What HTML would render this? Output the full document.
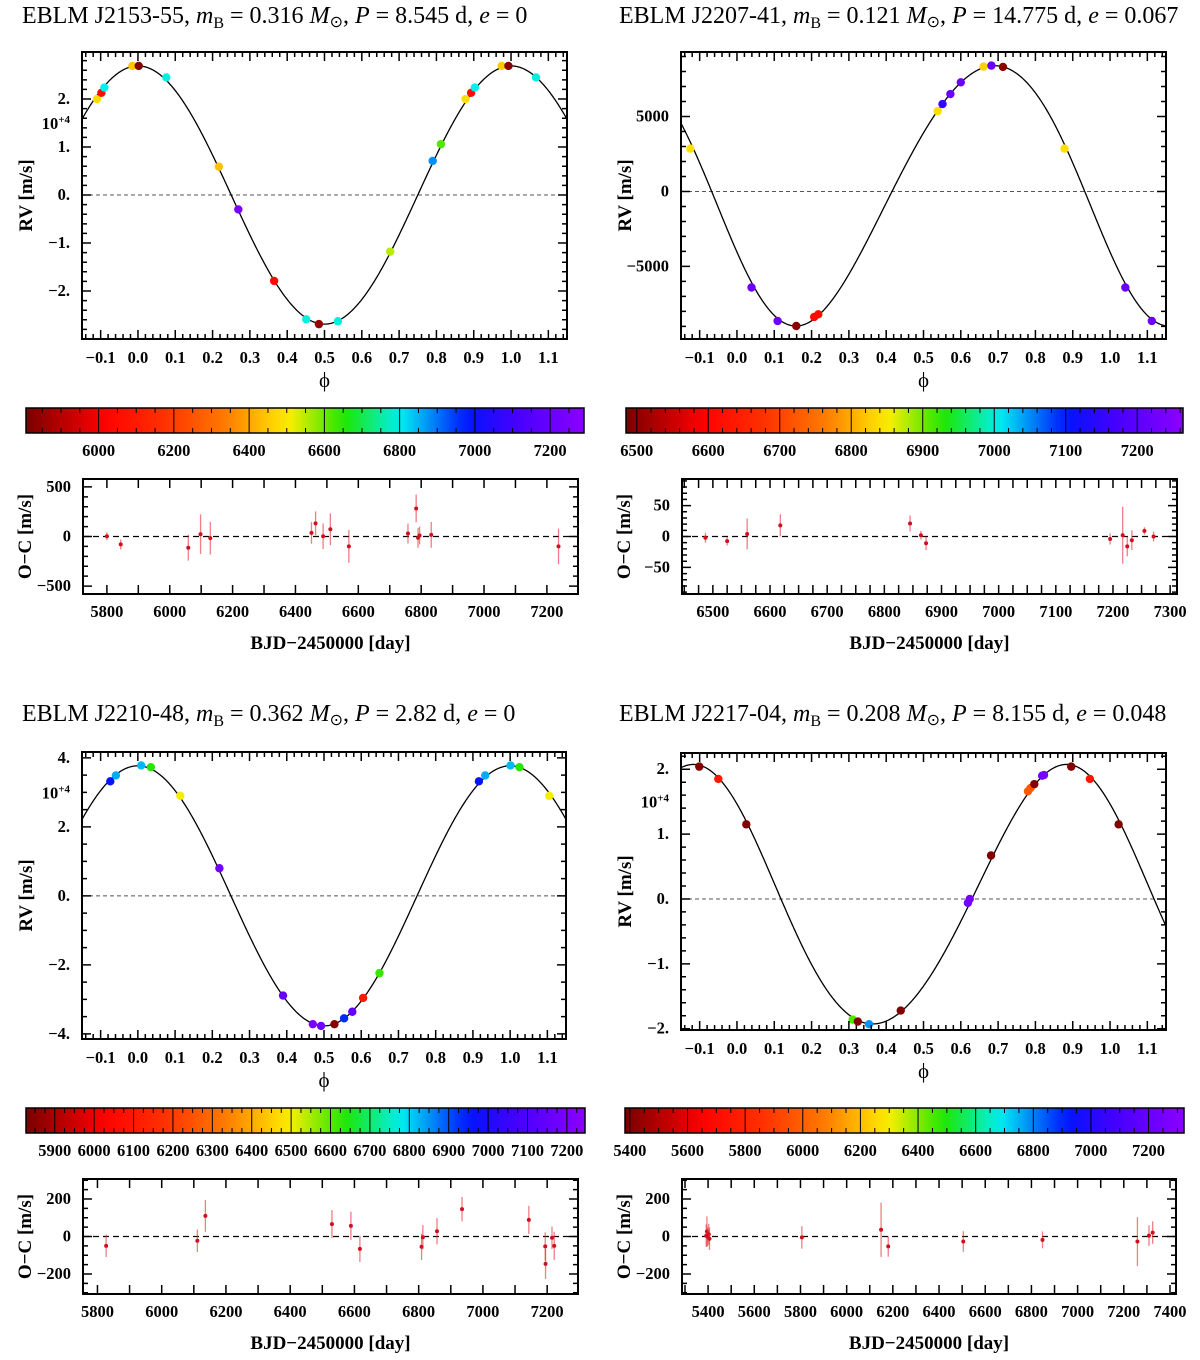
<!DOCTYPE html>
<html><head><meta charset="utf-8"><title>EBLM RV panels</title>
<style>
html,body{margin:0;padding:0;background:#fff;}
svg{display:block;}
text{font-family:"Liberation Serif",serif;}
.tk{font-weight:bold;font-size:16.5px;}
.ttl{font-size:24px;}
.ax{font-weight:bold;font-size:19px;}
</style></head>
<body>
<svg id="fig" width="1200" height="1360" viewBox="0 0 1200 1360" xmlns="http://www.w3.org/2000/svg"></svg>
<script>
// ===== DATA: top-left J2153-55 =====
const tl_phase=[-0.110,-0.098,-0.090,-0.015,0.002,0.076,0.217,0.269,0.365,0.451,0.485,0.536,0.676,0.790,0.812,0.878,0.893,0.903,0.975,0.993,1.067];
const tl_rv=[2.0e4,2.13e4,2.24e4,2.69e4,2.69e4,2.45e4,0.59e4,-0.30e4,-1.79e4,-2.59e4,-2.69e4,-2.63e4,-1.18e4,0.71e4,1.06e4,2.0e4,2.13e4,2.24e4,2.69e4,2.69e4,2.45e4];
const tl_date=[6480,6050,6800,6450,5830,6790,6440,7250,6040,6790,5850,6790,6550,6880,6620,6480,6050,6800,6450,5830,6790];
const tl_model=[2.69e4,0,0,0,0]; // K, e, omega(deg), tperi, gamma
const tl_oc_day=[5800,5844,6059,6098,6129,6451,6464,6488,6511,6570,6758,6784,6790,6795,6832,7237];
const tl_oc_res=[3,-80,-113,23,-17,37,133,3,73,-100,30,283,-13,10,17,-100];
const tl_oc_err=[40,50,130,200,165,110,120,130,160,165,100,140,100,90,130,180];
// ===== DATA: top-right J2207-41 =====
const tr_phase=[-0.125,0.039,0.109,0.159,0.207,0.218,0.538,0.551,0.572,0.600,0.661,0.682,0.713,0.878,1.041,1.112];
const tr_rv=[2857,-6406,-8638,-8973,-8371,-8192,5357,5826,6496,7277,8326,8393,8304,2857,-6406,-8638];
const tr_date=[6840,7220,7220,6500,6610,6610,6840,7150,7220,7220,6830,7220,6500,6840,7220,7220];
const tr_model=[8680,0.067,130,0.035,80];
const tr_oc_day=[6487,6525,6560,6618,6845,6864,6873,7195,7217,7225,7233,7255,7271];
const tr_oc_res=[-2,-7.5,4,18,21,2,-11,-4,2,-16,-6,9,0];
const tr_oc_err=[8,7,25,18,13,7,11,9,46,16,16,6,8];
// ===== DATA: bottom-left J2210-48 =====
const bl_phase=[-0.074,-0.059,0.009,0.035,0.114,0.219,0.390,0.470,0.492,0.528,0.554,0.576,0.605,0.649,0.916,0.933,1.001,1.025,1.105];
const bl_rv=[3.32e4,3.49e4,3.78e4,3.73e4,2.90e4,0.80e4,-2.89e4,-3.72e4,-3.77e4,-3.72e4,-3.55e4,-3.36e4,-2.96e4,-2.24e4,3.32e4,3.49e4,3.78e4,3.73e4,2.90e4];
const bl_date=[6950,6830,6820,6630,6500,7180,7150,7200,7180,5850,6930,7150,6100,6620,6950,6830,6820,6630,6500];
const bl_model=[3.77e4,0,0,0,0];
const bl_oc_day=[5827,6111,6136,6530,6589,6617,6809,6813,6857,6935,7143,7194,7195,7215,7222];
const bl_oc_res=[-50,-23,110,66,57,-66,-55,-4,28,146,89,-53,-146,-7,-50];
const bl_oc_err=[60,60,85,75,75,70,70,65,70,65,75,75,80,60,75];
// ===== DATA: bottom-right J2217-04 =====
const br_phase=[-0.101,-0.050,0.025,0.310,0.324,0.354,0.439,0.619,0.624,0.681,0.780,0.787,0.797,0.818,0.823,0.896,0.946,1.023];
const br_rv=[2.04e4,1.85e4,1.15e4,-1.86e4,-1.89e4,-1.93e4,-1.72e4,-0.06e4,0.0,0.67e4,1.66e4,1.71e4,1.77e4,1.90e4,1.91e4,2.04e4,1.85e4,1.15e4];
const br_date=[5400,5750,5400,6450,5400,6780,5400,7250,7250,5400,5980,5980,5400,7250,7250,5400,5750,5400];
const br_model=[20000,0.048,40,-0.015,0];
const br_oc_day=[5392,5395,5398,5403,5406,5806,6149,6180,6505,6848,7259,7309,7325];
const br_oc_res=[4,27,0,12,-12,-5,36,-53,-27,-18,-27,5,21];
const br_oc_err=[60,80,50,55,60,60,145,55,55,45,130,55,60];

// ===== tick label arrays =====
const phaseTicks=[-0.1,0,0.1,0.2,0.3,0.4,0.5,0.6,0.7,0.8,0.9,1.0,1.1];
const tl_yticks=[2e4,1e4,0,-1e4,-2e4]; const tl_ylabels=["2.","1.","0.","\u22121.","\u22122."];
const tr_yticks=[5000,0,-5000]; const tr_ylabels=["5000","0","\u22125000"];
const bl_yticks=[4e4,2e4,0,-2e4,-4e4]; const bl_ylabels=["4.","2.","0.","\u22122.","\u22124."];
const br_yticks=[2e4,1e4,0,-1e4,-2e4]; const br_ylabels=["2.","1.","0.","\u22121.","\u22122."];

// ===== layout (not data) =====
const panels=[
 {id:'j2153',title:['EBLM J2153-55, ','0.316','8.545','0'],tx:22,ty:23,
  phase:tl_phase,rv:tl_rv,date:tl_date,model:tl_model,yt:tl_yticks,yl:tl_ylabels,expo:true,
  rvb:{x0:82,x1:567,y0:52,y1:339,ymin:-3.0e4,ymax:2.98e4,minor:0.2e4,major:1e4},
  cb:{x0:26,x1:584,y0:408,y1:433,vmin:5807,vmax:7290,major:200,minor:50,first:6000},
  ocd:tl_oc_day,ocr:tl_oc_res,oce:tl_oc_err,
  oc:{x0:83,x1:578,y0:479,y1:594,xmin:5724,xmax:7299,ymin:-580,ymax:580,xlab:200,xt:100,ymaj:500,ymin2:100,first:5800}},
 {id:'j2207',title:['EBLM J2207-41, ','0.121','14.775','0.067'],tx:619,ty:23,
  phase:tr_phase,rv:tr_rv,date:tr_date,model:tr_model,yt:tr_yticks,yl:tr_ylabels,expo:false,
  rvb:{x0:681,x1:1166,y0:52,y1:339,ymin:-9840,ymax:9300,minor:1000,major:5000},
  cb:{x0:626,x1:1183,y0:408,y1:433,vmin:6485,vmax:7264,major:100,minor:20,first:6500},
  ocd:tr_oc_day,ocr:tr_oc_res,oce:tr_oc_err,
  oc:{x0:682,x1:1177,y0:479,y1:594,xmin:6446,xmax:7312,ymin:-93,ymax:93,xlab:100,xt:25,ymaj:50,ymin2:10,first:6500}},
 {id:'j2210',title:['EBLM J2210-48, ','0.362','2.82','0'],tx:22,ty:721,
  phase:bl_phase,rv:bl_rv,date:bl_date,model:bl_model,yt:bl_yticks,yl:bl_ylabels,expo:true,
  rvb:{x0:82,x1:566,y0:752,y1:1039,ymin:-4.15e4,ymax:4.17e4,minor:0.5e4,major:2e4},
  cb:{x0:26,x1:585,y0:1108,y1:1133,vmin:5827,vmax:7246,major:100,minor:25,first:5900},
  ocd:bl_oc_day,ocr:bl_oc_res,oce:bl_oc_err,
  oc:{x0:83,x1:578,y0:1179,y1:1294,xmin:5755,xmax:7296,ymin:-307,ymax:307,xlab:200,xt:100,ymaj:200,ymin2:50,first:5800}},
 {id:'j2217',title:['EBLM J2217-04, ','0.208','8.155','0.048'],tx:619,ty:721,
  phase:br_phase,rv:br_rv,date:br_date,model:br_model,yt:br_yticks,yl:br_ylabels,expo:true,
  rvb:{x0:681,x1:1166,y0:753,y1:1030,ymin:-2.02e4,ymax:2.25e4,minor:0.2e4,major:1e4},
  cb:{x0:625,x1:1184,y0:1108,y1:1133,vmin:5383,vmax:7323,major:200,minor:50,first:5400},
  ocd:br_oc_day,ocr:br_oc_res,oce:br_oc_err,
  oc:{x0:682,x1:1176,y0:1179,y1:1294,xmin:5287,xmax:7426,ymin:-307,ymax:307,xlab:200,xt:100,ymaj:200,ymin2:50,first:5400}}
];

const NS='http://www.w3.org/2000/svg';
const svg=document.getElementById('fig');
function mk(tag,attrs,parent){const e=document.createElementNS(NS,tag);for(const k in attrs)e.setAttribute(k,attrs[k]);(parent||svg).appendChild(e);return e;}
const CM=[[0,[122,0,0]],[0.14,[255,0,0]],[0.25,[255,50,0]],[0.36,[255,125,0]],[0.47,[255,238,0]],[0.57,[30,230,0]],[0.67,[0,240,240]],[0.79,[0,20,255]],[0.88,[70,0,255]],[1,[140,0,255]]];
function cmap(f){f=Math.max(0,Math.min(1,f));for(let i=1;i<CM.length;i++){if(f<=CM[i][0]){const a=CM[i-1],b=CM[i],t=(f-a[0])/(b[0]-a[0]);const c=a[1].map((v,j)=>Math.round(v+(b[1][j]-v)*t));return 'rgb('+c.join(',')+')';}}return 'rgb(140,0,255)';}
function rvModel(ph,p){const K=p[0],e=p[1],w=p[2]*Math.PI/180,tp=p[3],g=p[4];const M=2*Math.PI*(ph-tp);let E=M;for(let i=0;i<30;i++)E=E-(E-e*Math.sin(E)-M)/(1-e*Math.cos(E));const nu=2*Math.atan2(Math.sqrt(1+e)*Math.sin(E/2),Math.sqrt(1-e)*Math.cos(E/2));return g+K*(Math.cos(nu+w)+e*Math.cos(w));}
function fmtTxt(v){return v<0?'\u2212'+Math.abs(v).toFixed(1):v.toFixed(1);}

panels.forEach((P,pi)=>{
 const g=mk('g',{});
 
 
 const t=mk('text',{x:P.tx,y:P.ty,class:'ttl'},g);
 
 
 t.innerHTML=P.title[0]+'<tspan font-style="italic">m</tspan><tspan font-size="16" dy="5">B</tspan><tspan dy="-5"> = '+P.title[1]+' </tspan><tspan font-style="italic">M</tspan><tspan font-size="16" dy="4">\u2299</tspan><tspan dy="-4">, </tspan><tspan font-style="italic">P</tspan> = '+P.title[2]+' d, <tspan font-style="italic">e</tspan> = '+P.title[3];

 const R=P.rvb;
 const xs=ph=>R.x0+(ph+0.15)/1.3*(R.x1-R.x0);
 const ys=v=>R.y1-(v-R.ymin)/(R.ymax-R.ymin)*(R.y1-R.y0);
 const clipId='clip'+pi;
 const cp=mk('clipPath',{id:clipId},g);mk('rect',{x:R.x0,y:R.y0,width:R.x1-R.x0,height:R.y1-R.y0},cp);
 const zl=mk('line',{x1:R.x0,x2:R.x1,y1:ys(0),y2:ys(0),stroke:'#555','stroke-width':1,'stroke-dasharray':'4 3'},g);
 
 
 let d='';for(let i=0;i<=600;i++){const ph=-0.15+1.3*i/600;d+=(i?'L':'M')+xs(ph).toFixed(2)+' '+ys(rvModel(ph,P.model)).toFixed(2);}
 const curve=mk('path',{d:d,fill:'none',stroke:'#000','stroke-width':1.3,'clip-path':'url(#'+clipId+')'},g);
 
 
 P.phase.forEach((ph,i)=>{
  const c=mk('circle',{cx:xs(ph),cy:ys(P.rv[i]),r:4.2,fill:cmap((P.date[i]-P.cb.vmin)/(P.cb.vmax-P.cb.vmin))},g);
  
  
 });
 let tk='';
 for(let k=-0.14;k<=1.1401;k+=0.02){const kk=Math.round(k*100)/100;const X=xs(kk);const maj=Math.abs(kk*10-Math.round(kk*10))<1e-6;const L=maj?9:5;tk+=`M${X} ${R.y1}v${-L}M${X} ${R.y0}v${L}`;}
 const s0=Math.ceil(R.ymin/R.minor)*R.minor;
 for(let v=s0;v<=R.ymax;v+=R.minor){const Y=ys(v);const maj=Math.abs(v/R.major-Math.round(v/R.major))<1e-6;const L=maj?9:5;tk+=`M${R.x0} ${Y}h${L}M${R.x1} ${Y}h${-L}`;}
 const tks=mk('path',{d:tk,stroke:'#000','stroke-width':1.5,fill:'none'},g);
 
 
 const fr=mk('rect',{x:R.x0,y:R.y0,width:R.x1-R.x0,height:R.y1-R.y0,fill:'none',stroke:'#000','stroke-width':2},g);
 
 
 phaseTicks.forEach(v=>{
  const tx=mk('text',{x:xs(v),y:R.y1+24,'text-anchor':'middle',class:'tk'},g);
  
  
  tx.textContent=fmtTxt(v);
 });
 P.yt.forEach((v,i)=>{
  const tx=mk('text',{x:R.x0-12,y:ys(v)+5,'text-anchor':'end',class:'tk'},g);
  
  
  tx.textContent=P.yl[i];
 });
 if(P.expo){
  const ey=(ys(P.yt[0])+ys(P.yt[1]))/2+6;
  const ex=mk('text',{x:R.x0-12,y:ey,'text-anchor':'end',class:'tk','font-size':'14'},g);
  
  
  ex.innerHTML='10<tspan font-size="11" dy="-6">+4</tspan>';
 }
 const yt=mk('text',{x:0,y:0,transform:`translate(${R.x0-50},${(R.y0+R.y1)/2}) rotate(-90)`,'text-anchor':'middle',class:'ax'},g);
 
 
 yt.textContent='RV [m/s]';
 const xt=mk('text',{x:(R.x0+R.x1)/2,y:R.y1+48,'text-anchor':'middle','font-size':'21'},g);
 
 
 xt.textContent='\u03d5';

 const C=P.cb;
 const gid='grad'+pi;
 const lg=mk('linearGradient',{id:gid,x1:0,x2:1,y1:0,y2:0},g);
 for(let i=0;i<=40;i++)mk('stop',{offset:(i/40),'stop-color':cmap(i/40)},lg);
 const cbr=mk('rect',{x:C.x0,y:C.y0,width:C.x1-C.x0,height:C.y1-C.y0,fill:'url(#'+gid+')',stroke:'#000','stroke-width':1.5},g);
 
 
 const cx=v=>C.x0+(v-C.vmin)/(C.vmax-C.vmin)*(C.x1-C.x0);
 let ct='';
 for(let v=Math.ceil(C.vmin/C.minor)*C.minor;v<C.vmax;v+=C.minor){const X=cx(v);if(v%C.major===0)ct+=`M${X} ${C.y0}V${C.y1}`;else ct+=`M${X} ${C.y0}v5M${X} ${C.y1}v-5`;}
 const ctp=mk('path',{d:ct,stroke:'#000','stroke-width':1,fill:'none'},g);
 
 
 for(let v=C.first;v<C.vmax;v+=C.major){
  const tx=mk('text',{x:cx(v),y:C.y1+23,'text-anchor':'middle',class:'tk'},g);
  
  
  tx.textContent=v;
 }

 const O=P.oc;
 const ox=v=>O.x0+(v-O.xmin)/(O.xmax-O.xmin)*(O.x1-O.x0);
 const oy=v=>O.y1-(v-O.ymin)/(O.ymax-O.ymin)*(O.y1-O.y0);
 const oz=mk('line',{x1:O.x0,x2:O.x1,y1:oy(0),y2:oy(0),stroke:'#000','stroke-width':1.2,'stroke-dasharray':'6 4'},g);
 
 
 P.ocd.forEach((dv,i)=>{
  const el=mk('line',{x1:ox(dv),x2:ox(dv),y1:oy(P.ocr[i]-P.oce[i]),y2:oy(P.ocr[i]+P.oce[i]),stroke:'rgba(230,40,50,0.6)','stroke-width':1.3},g);
  
  
  const c=mk('circle',{cx:ox(dv),cy:oy(P.ocr[i]),r:2,fill:'#d0101e'},g);
  
  
 });
 let ot='';
 for(let v=Math.ceil(O.xmin/O.xt)*O.xt;v<O.xmax;v+=O.xt){const X=ox(v);ot+=`M${X} ${O.y1}v-9M${X} ${O.y0}v9`;}
 for(let v=Math.ceil(O.ymin/O.ymin2)*O.ymin2;v<=O.ymax;v+=O.ymin2){const Y=oy(v);const L=(v%O.ymaj===0)?9:5;ot+=`M${O.x0} ${Y}h${L}M${O.x1} ${Y}h${-L}`;}
 const otp=mk('path',{d:ot,stroke:'#000','stroke-width':1.5,fill:'none'},g);
 
 
 const ofr=mk('rect',{x:O.x0,y:O.y0,width:O.x1-O.x0,height:O.y1-O.y0,fill:'none',stroke:'#000','stroke-width':2},g);
 
 
 for(let v=O.first;v<=O.xmax;v+=O.xlab){
  const tx=mk('text',{x:ox(v),y:O.y1+23,'text-anchor':'middle',class:'tk'},g);
  
  
  tx.textContent=v;
 }
 for(let v=-Math.floor(O.ymax/O.ymaj)*O.ymaj;v<=O.ymax;v+=O.ymaj){
  const tx=mk('text',{x:O.x0-12,y:oy(v)+5,'text-anchor':'end',class:'tk'},g);
  
  
  tx.textContent=v<0?'\u2212'+Math.abs(v):v;
 }
 const oyt=mk('text',{x:0,y:0,transform:`translate(${O.x0-52},${(O.y0+O.y1)/2}) rotate(-90)`,'text-anchor':'middle',class:'ax'},g);
 
 
 oyt.textContent='O\u2212C [m/s]';
 const oxt=mk('text',{x:(O.x0+O.x1)/2,y:O.y1+55,'text-anchor':'middle',class:'ax','font-size':'20'},g);
 
 
 oxt.textContent='BJD\u22122450000 [day]';
});
</script>
</body></html>
